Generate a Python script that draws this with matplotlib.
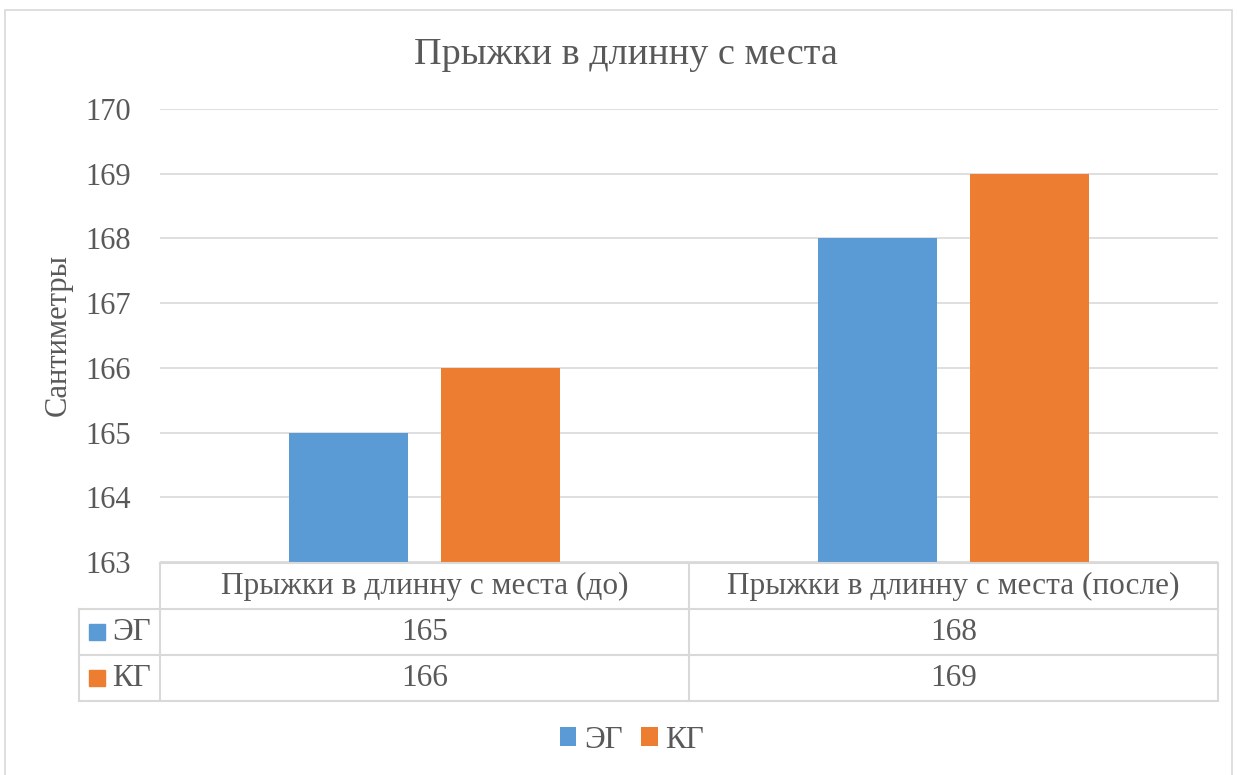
import matplotlib.pyplot as plt
import matplotlib.transforms as mtransforms
from matplotlib.patches import Rectangle
import numpy as np

plt.rcParams['font.family'] = ['Liberation Serif', 'DejaVu Serif']

title = "Прыжки в длинну с места"
ylabel = "Сантиметры"
categories = ["Прыжки в длинну с места (до)", "Прыжки в длинну с места (после)"]
series_names = ["ЭГ", "КГ"]
eg_values = [165, 168]
kg_values = [166, 169]
colors = ["#5b9bd5", "#ed7d31"]
text_color = "#595959"
grid_color = "#d9d9d9"

W, H = 1238, 775
fig = plt.figure(figsize=(W / 100, H / 100), dpi=100)


def fx(px):
    return px / W


def fy(py):
    return 1 - py / H


# outer chart border
fig.patches.append(Rectangle((fx(5), fy(1000)), fx(1227), fy(10) - fy(1000),
                             transform=fig.transFigure, fill=False,
                             edgecolor=grid_color, linewidth=1.2))

ax = fig.add_axes([fx(160), fy(562), fx(1218) - fx(160), fy(109) - fy(562)])

x = np.arange(len(categories))
width = 0.225
offset = 0.143
ax.bar(x - offset, eg_values, width, color=colors[0], label=series_names[0], zorder=3)
ax.bar(x + offset, kg_values, width, color=colors[1], label=series_names[1], zorder=3)

ax.set_xlim(-0.5, len(categories) - 0.5)
ax.set_ylim(163, 170)
ax.set_yticks(np.arange(163, 171, 1))
ax.set_xticks([])
ax.tick_params(axis='y', length=0, labelsize=22, colors=text_color, pad=21)
ax.grid(True, axis='y', color=grid_color, linewidth=1.2, zorder=0)
for s in ax.spines.values():
    s.set_visible(False)

ax.set_ylabel(ylabel, fontsize=22, color=text_color, labelpad=9)
fig.text(fx(626), fy(55), title, ha='center', va='center', fontsize=27.5, color=text_color)

# data table below the plot
trans = mtransforms.blended_transform_factory(ax.transData, fig.transFigure)
row_edges = [563, 609, 655, 701]
left_px = 79
x_left = -0.5 - (160 - left_px) / ((1218 - 160) / len(categories))
x_right = len(categories) - 0.5

# horizontal lines
ax.plot([-0.5, x_right], [fy(row_edges[0])] * 2, transform=trans, color=grid_color,
        lw=1.5, clip_on=False, zorder=4)
for r in row_edges[1:]:
    ax.plot([x_left, x_right], [fy(r)] * 2, transform=trans, color=grid_color,
            lw=1.5, clip_on=False)
# vertical lines
ax.plot([x_left, x_left], [fy(row_edges[1]), fy(row_edges[-1])], transform=trans,
        color=grid_color, lw=1.5, clip_on=False)
for b in np.arange(-0.5, len(categories), 1.0):
    ax.plot([b, b], [fy(row_edges[0]), fy(row_edges[-1])], transform=trans,
            color=grid_color, lw=1.5, clip_on=False)

# header
for i, c in enumerate(categories):
    ax.text(i, fy((row_edges[0] + row_edges[1]) / 2), c, transform=trans, ha='center',
            va='center', fontsize=22.5, color=text_color)

# rows
for r, (name, vals, col) in enumerate(zip(series_names, [eg_values, kg_values], colors)):
    yc = fy((row_edges[r + 1] + row_edges[r + 2]) / 2)
    fig.patches.append(Rectangle((fx(89), yc - (fy(0) - fy(8))), fx(16), fy(0) - fy(16),
                                 transform=fig.transFigure, color=col))
    fig.text(fx(112), yc, name, ha='left', va='center', fontsize=22.5, color=text_color)
    for i, v in enumerate(vals):
        ax.text(i, yc, str(v), transform=trans, ha='center', va='center',
                fontsize=22.5, color=text_color)

# legend
leg = fig.legend(loc='center', bbox_to_anchor=(fx(632), fy(740)), ncol=2, frameon=False,
                 fontsize=22.5, handlelength=0.52, handleheight=0.52, handletextpad=0.25,
                 columnspacing=0.6, labelcolor=text_color, borderpad=0, borderaxespad=0)

fig.savefig("out.png", dpi=100)
